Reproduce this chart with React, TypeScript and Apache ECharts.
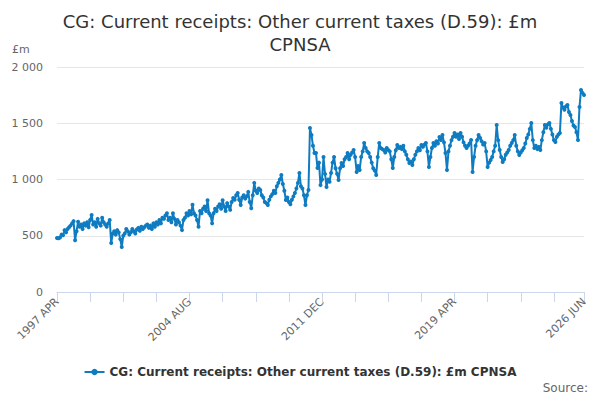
import React, { useEffect, useRef } from 'react';
import * as echarts from 'echarts';

const TITLE = 'CG: Current receipts: Other current taxes (D.59): £m\nCPNSA';
const SERIES_NAME = 'CG: Current receipts: Other current taxes (D.59): £m CPNSA';
const MONTHS = ['JAN', 'FEB', 'MAR', 'APR', 'MAY', 'JUN', 'JUL', 'AUG', 'SEP', 'OCT', 'NOV', 'DEC'];
const Y_TICK_LABELS = ['0', '500', '1 000', '1 500', '2 000'];

// monthly values from 1997 APR, one row per April-March year
const values: number[] = [
  480, 478, 485, 510, 505, 550, 530, 560, 575, 590, 610, 630,
  460, 540, 625, 580, 600, 560, 610, 590, 620, 575, 640, 685,
  600, 620, 580, 650, 610, 590, 660, 620, 600, 580, 610, 640,
  435, 520, 540, 510, 550, 530, 470, 400, 500, 520, 560, 540,
  510, 530, 560, 540, 520, 555, 570, 545, 580, 560, 575, 590,
  600, 570, 590, 560, 610, 580, 620, 600, 640, 610, 660, 650,
  680, 700, 640, 660, 620, 700, 650, 600, 640, 620, 590, 550,
  640, 660, 700, 680, 720, 690, 775, 700, 680, 640, 580, 720,
  700, 740, 760, 720, 815, 700, 680, 610, 700, 740, 720, 760,
  780, 740, 815, 760, 720, 790, 760, 730, 800, 835, 820, 860,
  880, 820, 773, 840, 860, 830, 850, 890, 800, 745, 860, 970,
  900, 880, 920, 906, 860, 840, 800, 790, 773, 820, 850, 870,
  900, 880, 940, 970, 1000, 1040, 960, 900, 818, 840, 800, 780,
  820, 850, 880, 920, 970, 1058, 940, 920, 860, 773, 860, 906,
  1458, 1396, 1300, 1235, 1235, 1102, 1150, 950, 1000, 1200, 1050, 933,
  1000, 980, 1058, 1150, 1200, 1100, 1050, 995, 1100, 1147, 1120, 1180,
  1200, 1235, 1180, 1220, 1240, 1262, 1200, 1067, 1120, 1085, 1200, 1250,
  1325, 1280, 1250, 1235, 1200, 1150, 1100, 1080, 1040, 1200, 1325, 1280,
  1270, 1262, 1240, 1280, 1262, 1250, 1180, 1102, 1200, 1260, 1307, 1280,
  1290, 1270, 1300, 1250, 1220, 1180, 1147, 1160, 1129, 1180, 1220, 1250,
  1280, 1260, 1307, 1290, 1310, 1325, 1250, 1111, 1200, 1280, 1325, 1300,
  1340, 1320, 1378, 1350, 1396, 1330, 1235, 1085, 1250, 1300, 1350, 1380,
  1413, 1380, 1400, 1360, 1413, 1380, 1330, 1300, 1280, 1300, 1320, 1351,
  1067, 1200, 1300, 1350, 1396, 1370, 1340, 1310, 1325, 1250, 1111, 1150,
  1173, 1200, 1250, 1300, 1484, 1350, 1262, 1200, 1156, 1180, 1220, 1240,
  1262, 1300, 1325, 1350, 1396, 1300, 1250, 1218, 1240, 1260, 1280, 1320,
  1369, 1400, 1450, 1502, 1350, 1280, 1300, 1270, 1290, 1262, 1350, 1420,
  1484, 1460, 1490, 1502, 1450, 1400, 1350, 1333, 1380, 1400, 1413, 1680,
  1640, 1620, 1650, 1662, 1600, 1573, 1520, 1480, 1467, 1420, 1351, 1644,
  1796, 1770, 1751,
];

// month labels, starting 1997 APR
const categories: string[] = values.map((_, i) => {
  const m = 3 + i;
  return `${1997 + Math.floor(m / 12)} ${MONTHS[m % 12]}`;
});

const LAST = categories.length - 1;
const FONT = '"DejaVu Sans", sans-serif';

export default function App() {
  const chartRef = useRef<HTMLDivElement>(null);

  useEffect(() => {
    if (!chartRef.current) return;
    const chart = echarts.init(chartRef.current, undefined, { renderer: 'svg' });

    chart.setOption({
      animation: false,
      textStyle: { fontFamily: FONT },
      title: {
        text: TITLE,
        left: 'center',
        top: 5,
        textStyle: {
          fontFamily: FONT,
          fontSize: 18,
          fontWeight: 'normal',
          color: '#333333',
          lineHeight: 23,
        },
      },
      grid: { left: 57, right: 16, top: 67, bottom: 108 },
      legend: {
        bottom: 17,
        left: 'center',
        itemWidth: 20,
        itemHeight: 8,
        textStyle: { fontFamily: FONT, fontSize: 12, fontWeight: 'bold', color: '#333333' },
        data: [SERIES_NAME],
      },
      xAxis: {
        type: 'category',
        data: categories,
        boundaryGap: false,
        axisLine: { lineStyle: { color: '#ccd6eb' } },
        axisTick: {
          length: 10,
          lineStyle: { color: '#ccd6eb' },
          interval: (i: number) => i % 22 === 0 || i === LAST,
        },
        axisLabel: {
          rotate: 45,
          fontSize: 11,
          color: '#666666',
          fontFamily: FONT,
          interval: (i: number) => i % 88 === 0 || i === LAST,
        },
      },
      yAxis: {
        type: 'value',
        min: 0,
        max: 2000,
        interval: 500,
        axisLine: { show: false },
        axisTick: { show: false },
        splitLine: { lineStyle: { color: '#e6e6e6' } },
        axisLabel: {
          fontSize: 11,
          color: '#666666',
          fontFamily: FONT,
          margin: 14,
          formatter: (v: number) => Y_TICK_LABELS[Math.round(v / 500)],
        },
      },
      graphic: [
        {
          type: 'text',
          left: 12,
          top: 44,
          style: { text: '£m', fontSize: 11, fill: '#666666', fontFamily: FONT },
        },
        {
          type: 'text',
          right: 12,
          top: 382,
          style: { text: 'Source:', fontSize: 12, fill: '#666666', fontFamily: FONT },
        },
      ],
      series: [
        {
          name: SERIES_NAME,
          type: 'line',
          data: values,
          symbol: 'circle',
          symbolSize: 4,
          showSymbol: true,
          showAllSymbol: true,
          lineStyle: { width: 2, color: '#0f7cc1' },
          itemStyle: { color: '#0f7cc1' },
        },
      ],
    });

    return () => {
      chart.dispose();
    };
  }, []);

  return (
    <div
      ref={chartRef}
      style={{ position: 'absolute', left: 0, top: 0, width: 600, height: 400 }}
    />
  );
}
